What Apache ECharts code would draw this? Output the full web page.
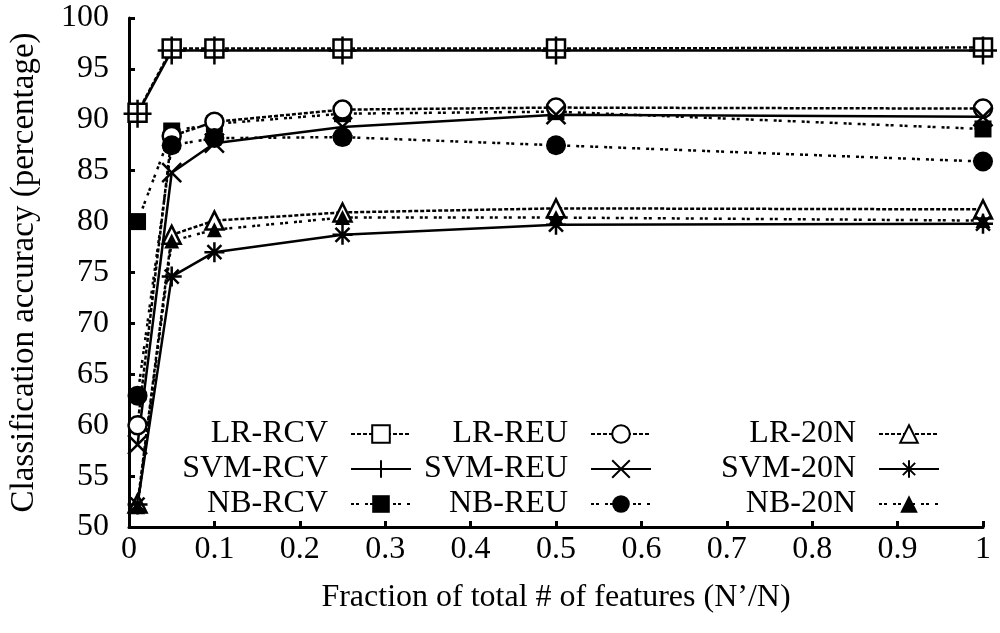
<!DOCTYPE html>
<html>
<head>
<meta charset="utf-8">
<script src="https://cdn.jsdelivr.net/npm/echarts@6/dist/echarts.min.js"></script>
<style>html,body{margin:0;padding:0;background:#fff}#c{width:1000px;height:633px}</style>
</head>
<body>
<div id="c"></div>
<script>
const xValues = [0.01, 0.05, 0.1, 0.25, 0.5, 1];
const lrRcv  = [90.7, 97.0, 97.0, 97.0, 97.0, 97.1];
const svmRcv = [90.6, 96.8, 96.8, 96.8, 96.8, 96.8];
const nbRcv  = [80.0, 88.9, 89.6, 90.6, 90.8, 89.1];
const lrReu  = [60.0, 88.4, 89.8, 91.0, 91.2, 91.1];
const svmReu = [58.1, 84.8, 87.7, 89.3, 90.5, 90.3];
const nbReu  = [62.9, 87.5, 88.2, 88.3, 87.5, 85.9];
const lr20n  = [52.3, 78.7, 80.1, 80.9, 81.3, 81.2];
const svm20n = [52.2, 74.6, 77.0, 78.7, 79.7, 79.8];
const nb20n  = [52.0, 78.1, 79.2, 80.4, 80.4, 80.1];
const yTicks = [50, 55, 60, 65, 70, 75, 80, 85, 90, 95, 100];
const xTicks = [0, 0.1, 0.2, 0.3, 0.4, 0.5, 0.6, 0.7, 0.8, 0.9, 1];

const FONT = 'Liberation Serif';
const FS = 32;
const LR_DASH = [4, 2];
const NB_DASH = [3, 2, 3, 6];
const PLUS = 'path://M10,0L10,20M0,10L20,10';
const CROSS = 'path://M0,0L20,20M20,0L0,20';
const STAR = 'path://M10,0L10,20M0,10L20,10M3,3L17,17M17,3L3,17';

function pairs(ys) { return xValues.map((x, i) => [x, ys[i]]); }

function mk(name, ys, kind, symbol, size) {
  let lineStyle, itemStyle;
  if (kind === 'lr') {
    lineStyle = { color: '#000', width: 2.5, type: LR_DASH };
    itemStyle = { color: '#fff', borderColor: '#000', borderWidth: 2.5 };
  } else if (kind === 'svm') {
    lineStyle = { color: '#000', width: 2.5, type: 'solid' };
    itemStyle = { color: '#000', borderColor: '#000', borderWidth: 2.5 };
  } else {
    lineStyle = { color: '#000', width: 2.5, type: NB_DASH };
    itemStyle = { color: '#000', borderColor: '#000', borderWidth: 0 };
  }
  return {
    name, type: 'line', data: pairs(ys), symbol, symbolSize: size,
    showAllSymbol: true, lineStyle, itemStyle, animation: false,
    emphasis: { disabled: true }
  };
}

const series = [
  mk('LR-RCV', lrRcv, 'lr', 'rect', 18),
  mk('SVM-RCV', svmRcv, 'svm', PLUS, 28),
  mk('NB-RCV', nbRcv, 'nb', 'rect', 17),
  mk('LR-REU', lrReu, 'lr', 'circle', 18),
  mk('SVM-REU', svmReu, 'svm', CROSS, 19),
  mk('NB-REU', nbReu, 'nb', 'circle', 20),
  mk('LR-20N', lr20n, 'lr', 'triangle', 18),
  mk('SVM-20N', svm20n, 'svm', STAR, 20),
  mk('NB-20N', nb20n, 'nb', 'triangle', 15)
];

function legend(names, right) {
  return {
    data: names, orient: 'vertical', align: 'right', right, top: 418, padding: 0,
    itemWidth: 60, itemHeight: 22, itemGap: 3, selectedMode: false,
    textStyle: { fontFamily: FONT, fontSize: FS, color: '#000', padding: [0, 18, 0, 0] }
  };
}

const chart = echarts.init(document.getElementById('c'), null, { renderer: 'canvas' });
chart.setOption({
  backgroundColor: '#fff',
  animation: false,
  grid: { left: 127, right: 17, top: 18, bottom: 106, containLabel: false },
  xAxis: {
    type: 'value', min: 0, max: 1, interval: 0.1,
    name: 'Fraction of total # of features (N\u2019/N)', nameLocation: 'middle', nameGap: 55,
    nameTextStyle: { fontFamily: FONT, fontSize: FS, color: '#000' },
    axisLine: { lineStyle: { color: '#000', width: 3 } },
    axisTick: { inside: true, length: 6, lineStyle: { color: '#000', width: 3 } },
    axisLabel: { fontFamily: FONT, fontSize: FS, color: '#000', margin: 7,
      formatter: v => { const t = xTicks.find(k => Math.abs(k - v) < 1e-6); return t === undefined ? '' : String(t); } },
    splitLine: { show: false }
  },
  yAxis: {
    type: 'value', min: 50, max: 100, interval: 5,
    name: 'Classification accuracy (percentage)', nameLocation: 'middle', nameGap: 88,
    nameTextStyle: { fontFamily: FONT, fontSize: 33, color: '#000' },
    axisLine: { lineStyle: { color: '#000', width: 3 } },
    axisTick: { inside: true, length: 6, lineStyle: { color: '#000', width: 3 } },
    axisLabel: { fontFamily: FONT, fontSize: FS, color: '#000', margin: 20,
      formatter: v => { const t = yTicks.find(k => Math.abs(k - v) < 1e-6); return t === undefined ? '' : String(t); } },
    splitLine: { show: false }
  },
  legend: [
    legend(['LR-RCV', 'SVM-RCV', 'NB-RCV'], 588),
    legend(['LR-REU', 'SVM-REU', 'NB-REU'], 348),
    legend(['LR-20N', 'SVM-20N', 'NB-20N'], 60)
  ],
  series
});
</script>
</body>
</html>
